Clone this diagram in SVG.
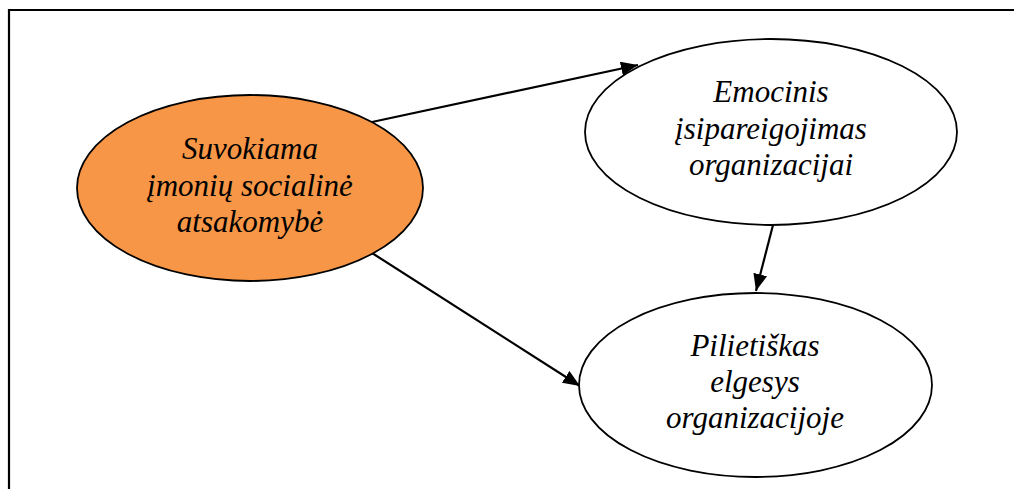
<svg xmlns="http://www.w3.org/2000/svg" width="1014" height="489" viewBox="0 0 1014 489">
  <defs>
    <marker id="arrow" markerUnits="userSpaceOnUse" markerWidth="18" markerHeight="14" refX="17" refY="7" orient="auto">
      <path d="M0,0 L17,7 L0,14 z" fill="#000"/>
    </marker>
    <style>
      .frame { fill: none; stroke: #000; stroke-width: 2.2; }
      .node { stroke: #000; stroke-width: 1.8; }
      .plain { fill: #fff; }
      .accent { fill: #f79646; }
      .label { font-family: "Liberation Serif", "Times New Roman", serif; font-style: italic; font-size: 31px; fill: #000; text-anchor: middle; }
      .edge { stroke: #000; stroke-width: 2.2; fill: none; marker-end: url(#arrow); }
    </style>
  </defs>

  <rect width="1014" height="489" fill="#fff"/>
  <!-- outer frame: top and left edges only -->
  <path class="frame" d="M9,495 L9,10 L1020,10"/>

  <g id="connectors">
    <line class="edge" x1="372" y1="122" x2="638" y2="65"/>
    <line class="edge" x1="372" y1="253" x2="580" y2="386"/>
    <line class="edge" x1="773" y1="225" x2="756" y2="291"/>
  </g>

  <g id="node-csr">
    <ellipse class="node accent" cx="250" cy="188" rx="173" ry="93"/>
    <text class="label" x="250" y="159">Suvokiama</text>
    <text class="label" x="250" y="196">įmonių socialinė</text>
    <text class="label" x="250" y="232">atsakomybė</text>
  </g>

  <g id="node-commitment">
    <ellipse class="node plain" cx="771" cy="132" rx="186" ry="93"/>
    <text class="label" x="771" y="102">Emocinis</text>
    <text class="label" x="771" y="139">įsipareigojimas</text>
    <text class="label" x="771" y="175">organizacijai</text>
  </g>

  <g id="node-citizenship">
    <ellipse class="node plain" cx="755.5" cy="385" rx="176.5" ry="92"/>
    <text class="label" x="755" y="356">Pilietiškas</text>
    <text class="label" x="755" y="392">elgesys</text>
    <text class="label" x="755" y="428">organizacijoje</text>
  </g>
</svg>
